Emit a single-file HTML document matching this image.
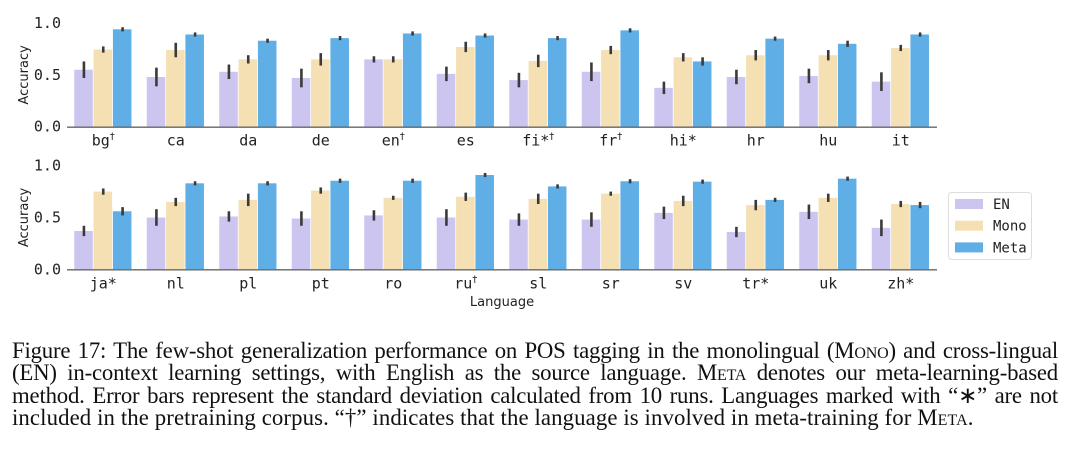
<!DOCTYPE html>
<html><head><meta charset="utf-8"><style>
body{margin:0;background:#fff;width:1080px;height:456px;overflow:hidden;position:relative}
svg{position:absolute;left:0;top:0}
.cap{position:absolute;left:12px;top:340px;width:1046px;font-family:"Liberation Serif",serif;font-size:22.8px;line-height:22.3px;color:#111}
.cap div{text-align:justify;text-align-last:justify;white-space:nowrap;letter-spacing:-0.2px}
.cap div.last{text-align-last:left;letter-spacing:0.1px}
.sc{font-variant:small-caps}
</style></head><body>
<svg id="chart" width="1080" height="330" font-family="DejaVu Sans Mono, Liberation Mono, monospace"></svg>
<div class="cap">
<div>Figure 17: The few-shot generalization performance on POS tagging in the monolingual (M<span class="sc">ono</span>) and cross-lingual</div>
<div>(EN) in-context learning settings, with English as the source language. M<span class="sc">eta</span> denotes our meta-learning-based</div>
<div>method. Error bars represent the standard deviation calculated from 10 runs. Languages marked with “∗” are not</div>
<div class="last">included in the pretraining corpus. “†” indicates that the language is involved in meta-training for M<span class="sc">eta</span>.</div>
</div>
<script>
const topLangs=["bg†","ca","da","de","en†","es","fi*†","fr†","hi*","hr","hu","it"];
const topEN=[0.55,0.48,0.53,0.47,0.65,0.51,0.45,0.53,0.375,0.48,0.49,0.435];
const topMono=[0.745,0.74,0.65,0.65,0.65,0.77,0.635,0.74,0.67,0.69,0.69,0.76];
const topMeta=[0.94,0.89,0.83,0.855,0.90,0.88,0.855,0.93,0.63,0.85,0.80,0.89];
const topENerr=[0.08,0.09,0.07,0.09,0.03,0.07,0.07,0.09,0.06,0.07,0.07,0.09];
const topMonoErr=[0.03,0.07,0.04,0.06,0.03,0.05,0.06,0.04,0.04,0.05,0.05,0.03];
const topMetaErr=[0.02,0.02,0.02,0.02,0.02,0.02,0.02,0.02,0.04,0.02,0.03,0.02];
const botLangs=["ja*","nl","pl","pt","ro","ru†","sl","sr","sv","tr*","uk","zh*"];
const botEN=[0.37,0.50,0.51,0.49,0.52,0.50,0.48,0.48,0.545,0.36,0.555,0.40];
const botMono=[0.75,0.65,0.67,0.76,0.69,0.70,0.68,0.73,0.66,0.62,0.69,0.63];
const botMeta=[0.56,0.83,0.83,0.855,0.855,0.91,0.80,0.85,0.846,0.67,0.875,0.62];
const botENerr=[0.05,0.08,0.05,0.07,0.05,0.08,0.06,0.07,0.06,0.05,0.07,0.08];
const botMonoErr=[0.03,0.04,0.06,0.03,0.02,0.04,0.05,0.02,0.05,0.05,0.04,0.03];
const botMetaErr=[0.04,0.02,0.02,0.02,0.02,0.02,0.02,0.02,0.02,0.02,0.02,0.03];
const yTicks=[0.0,0.5,1.0];
const seriesNames=["EN","Mono","Meta"];
const colors=["#cbc5ef","#f4e0b3","#5faee6"];
const NS="http://www.w3.org/2000/svg";
const svg=document.getElementById("chart");
function mk(t,a,p){const e=document.createElementNS(NS,t);for(const k in a)e.setAttribute(k,a[k]);(p||svg).appendChild(e);return e;}
const X0=67,X1=937,GW=(X1-X0)/12,BW=GW*0.8/3;
function panel(name,y0,langs,vals,errs){
  const H=103.6;
  const ys=v=>y0-v*H;
  const g=mk("g",{});
  
  
  yTicks.forEach(t=>{const tx=mk("text",{x:61,y:ys(t)+5,"text-anchor":"end","font-size":"15",fill:"#222"},g);tx.textContent=t.toFixed(1);
    });
  const yl=mk("text",{x:0,y:0,"font-size":"13",fill:"#222","text-anchor":"middle",transform:`translate(28,${ys(0.5)}) rotate(-90)`,"font-family":"DejaVu Sans, Liberation Sans, sans-serif"},g);
  yl.textContent="Accuracy";
  
  langs.forEach((l,i)=>{
    const cx=X0+GW*(i+0.5);
    for(let s=0;s<3;s++){
      const v=vals[s][i],e=errs[s][i];
      const bx=cx-1.5*BW+s*BW;
      const r=mk("rect",{x:bx,y:ys(v),width:BW-0.8,height:ys(0)-ys(v),fill:colors[s]},g);
      
      
      const el=mk("line",{x1:bx+BW/2,x2:bx+BW/2,y1:ys(v-e),y2:ys(v+e),stroke:"#3a3a3a","stroke-width":2.6},g);
      
      
    }
    const tx=mk("text",{x:cx,y:y0+19,"text-anchor":"middle","font-size":"15",fill:"#222"},g);
    const base=l.replace("†","");
    const t1=mk("tspan",{},tx);t1.textContent=base;
    if(l.includes("†")){const t2=mk("tspan",{"font-size":"10",dy:"-6","font-family":"DejaVu Sans, sans-serif"},tx);t2.textContent="†";}
    
    
  });
  const ax=mk("line",{x1:X0,x2:X1,y1:y0+0.5,y2:y0+0.5,stroke:"#666","stroke-width":1.3},g);
  
}
panel("top",126.7,topLangs,[topEN,topMono,topMeta],[topENerr,topMonoErr,topMetaErr]);
panel("bottom",269.3,botLangs,[botEN,botMono,botMeta],[botENerr,botMonoErr,botMetaErr]);
const xl=mk("text",{x:502,y:306,"text-anchor":"middle","font-size":"13",fill:"#222","font-family":"DejaVu Sans, Liberation Sans, sans-serif"});
xl.textContent="Language";

const lg=mk("g",{});

mk("rect",{x:948.5,y:192.5,width:83,height:67,rx:3,fill:"#fff",stroke:"#ddd"},lg);
seriesNames.forEach((n,i)=>{
  const y=199+i*21.7;
  mk("rect",{x:955,y:y,width:28,height:10,fill:colors[i]},lg);
  const t=mk("text",{x:993,y:y+10,"font-size":"14",fill:"#222"},lg);
  t.textContent=n;
  
  
});
</script>
</body></html>
